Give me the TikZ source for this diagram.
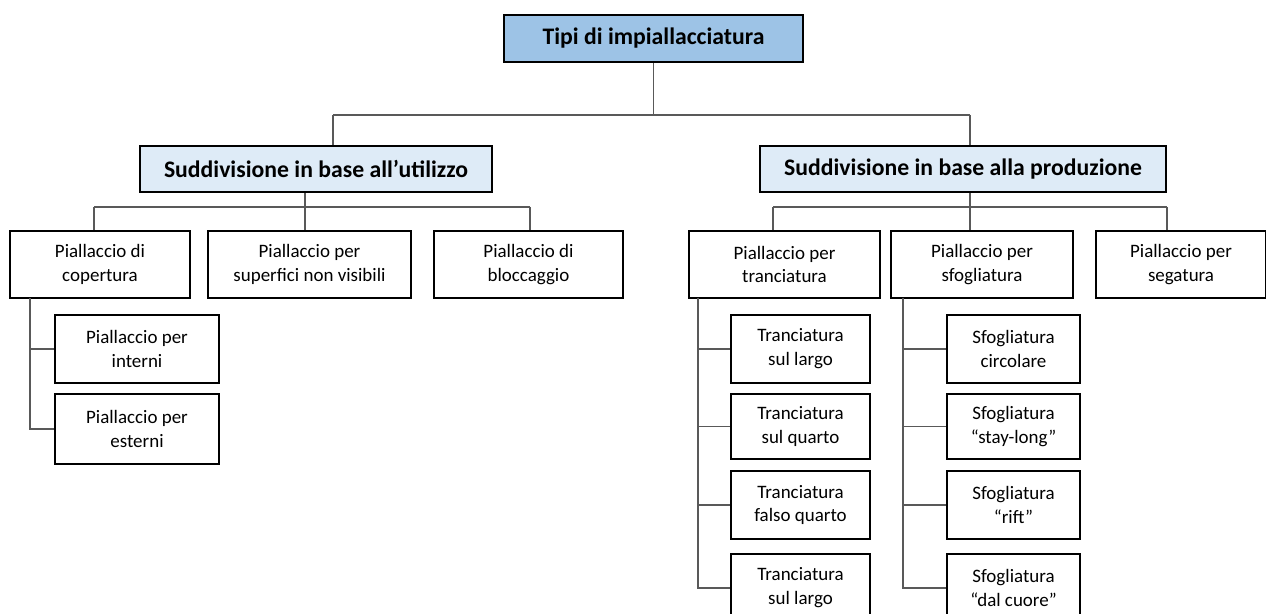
\documentclass[tikz,border=0pt]{standalone}
\usepackage{fontspec}
\setmainfont{Carlito}
\usepackage{tikz}
\definecolor{rootblue}{HTML}{9DC3E6}
\definecolor{paleblue}{HTML}{DEEBF7}
\tikzset{
    x=0.02cm, y=-0.02cm, % one unit is one pixel of the layout
    box/.style={draw=black, line width=1.2pt, inner sep=0pt, align=center}, % every box
    rootbox/.style={box, fill=rootblue, font=\fontsize{13.5}{16}\selectfont\bfseries},
    groupbox/.style={box, fill=paleblue, font=\fontsize{13.5}{16}\selectfont\bfseries, minimum height=0.92cm},
    leaf/.style={box, fill=white, font=\fontsize{10.8}{13.6}\selectfont, minimum height=1.34cm},
    link/.style={draw=black!65, line width=0.6pt}, % the thin grey connectors
}
\begin{document}
\begin{tikzpicture}
\useasboundingbox (0,0) rectangle (1266,614);
% root and the two groups
\node[rootbox, minimum width=5.98cm, minimum height=0.94cm] (root) at (653.5,38.5) {Tipi di impiallacciatura};
\node[groupbox, minimum width=7.04cm] (use) at (316,169) {Suddivisione in base all’utilizzo};
\node[groupbox, minimum width=8.12cm] (prod) at (963,169) {Suddivisione in base alla produzione};
% second level
\node[leaf, minimum width=3.6cm] (cop) at (100,264.5) {Piallaccio di\\copertura};
\node[leaf, minimum width=4.06cm] (sup) at (309.5,264.5) {Piallaccio per\\superfici non visibili};
\node[leaf, minimum width=3.78cm] (bloc) at (528.5,264.5) {Piallaccio di\\bloccaggio};
\node[leaf, minimum width=3.82cm] (tranc) at (784.5,264.5) {Piallaccio per\\tranciatura};
\node[leaf, minimum width=3.64cm] (sfog) at (982,264.5) {Piallaccio per\\sfogliatura};
\node[leaf, minimum width=3.4cm] (seg) at (1181,264.5) {Piallaccio per\\segatura};
% third level
\node[leaf, minimum width=3.28cm, minimum height=1.36cm] (int) at (137,349) {Piallaccio per\\interni};
\node[leaf, minimum width=3.28cm, minimum height=1.4cm] (est) at (137,429) {Piallaccio per\\esterni};
\node[leaf, minimum width=2.78cm, minimum height=1.36cm] (t1) at (800.5,349) {Tranciatura\\sul largo};
\node[leaf, minimum width=2.78cm, minimum height=1.3cm] (t2) at (800.5,426.5) {Tranciatura\\sul quarto};
\node[leaf, minimum width=2.78cm, minimum height=1.36cm] (t3) at (800.5,505) {Tranciatura\\falso quarto};
\node[leaf, minimum width=2.78cm, minimum height=1.36cm] (t4) at (800.5,588) {Tranciatura\\sul largo};
\node[leaf, minimum width=2.66cm, minimum height=1.36cm] (s1) at (1013.5,349) {Sfogliatura\\circolare};
\node[leaf, minimum width=2.66cm, minimum height=1.3cm] (s2) at (1013.5,426.5) {Sfogliatura\\“stay-long”};
\node[leaf, minimum width=2.66cm, minimum height=1.36cm] (s3) at (1013.5,505) {Sfogliatura\\“rift”};
\node[leaf, minimum width=2.66cm, minimum height=1.36cm] (s4) at (1013.5,588) {Sfogliatura\\“dal cuore”};
% bus points
\coordinate (b0l) at (333,115);
\coordinate (b0r) at (970,115);
\coordinate (b1l) at (94,207);
\coordinate (b1m) at (305,207);
\coordinate (b1r) at (530,207);
\coordinate (b2l) at (773,207);
\coordinate (b2m) at (970,207);
\coordinate (b2r) at (1167,207);
\coordinate (sc) at (30,298);
\coordinate (st) at (698,298);
\coordinate (ss) at (903,298);
% connectors
\draw[link] (root.south) -- (root.south |- b0l);
\draw[link] (b0l) -- (b0r);
\draw[link] (b0l) -- (b0l |- use.north);
\draw[link] (b0r) -- (b0r |- prod.north);
\draw[link] (b1m |- use.south) -- (b1m);
\draw[link] (b1l) -- (b1r);
\draw[link] (b1l) -- (b1l |- cop.north);
\draw[link] (b1m) -- (b1m |- sup.north);
\draw[link] (b1r) -- (b1r |- bloc.north);
\draw[link] (b2m |- prod.south) -- (b2m);
\draw[link] (b2l) -- (b2r);
\draw[link] (b2l) -- (b2l |- tranc.north);
\draw[link] (b2m) -- (b2m |- sfog.north);
\draw[link] (b2r) -- (b2r |- seg.north);
\draw[link] (sc) |- (int.west);
\draw[link] (sc) |- (est.west);
\foreach \t in {t1,t2,t3,t4} \draw[link] (st) |- (\t.west);
\foreach \s in {s1,s2,s3,s4} \draw[link] (ss) |- (\s.west);
\end{tikzpicture}
\end{document}
